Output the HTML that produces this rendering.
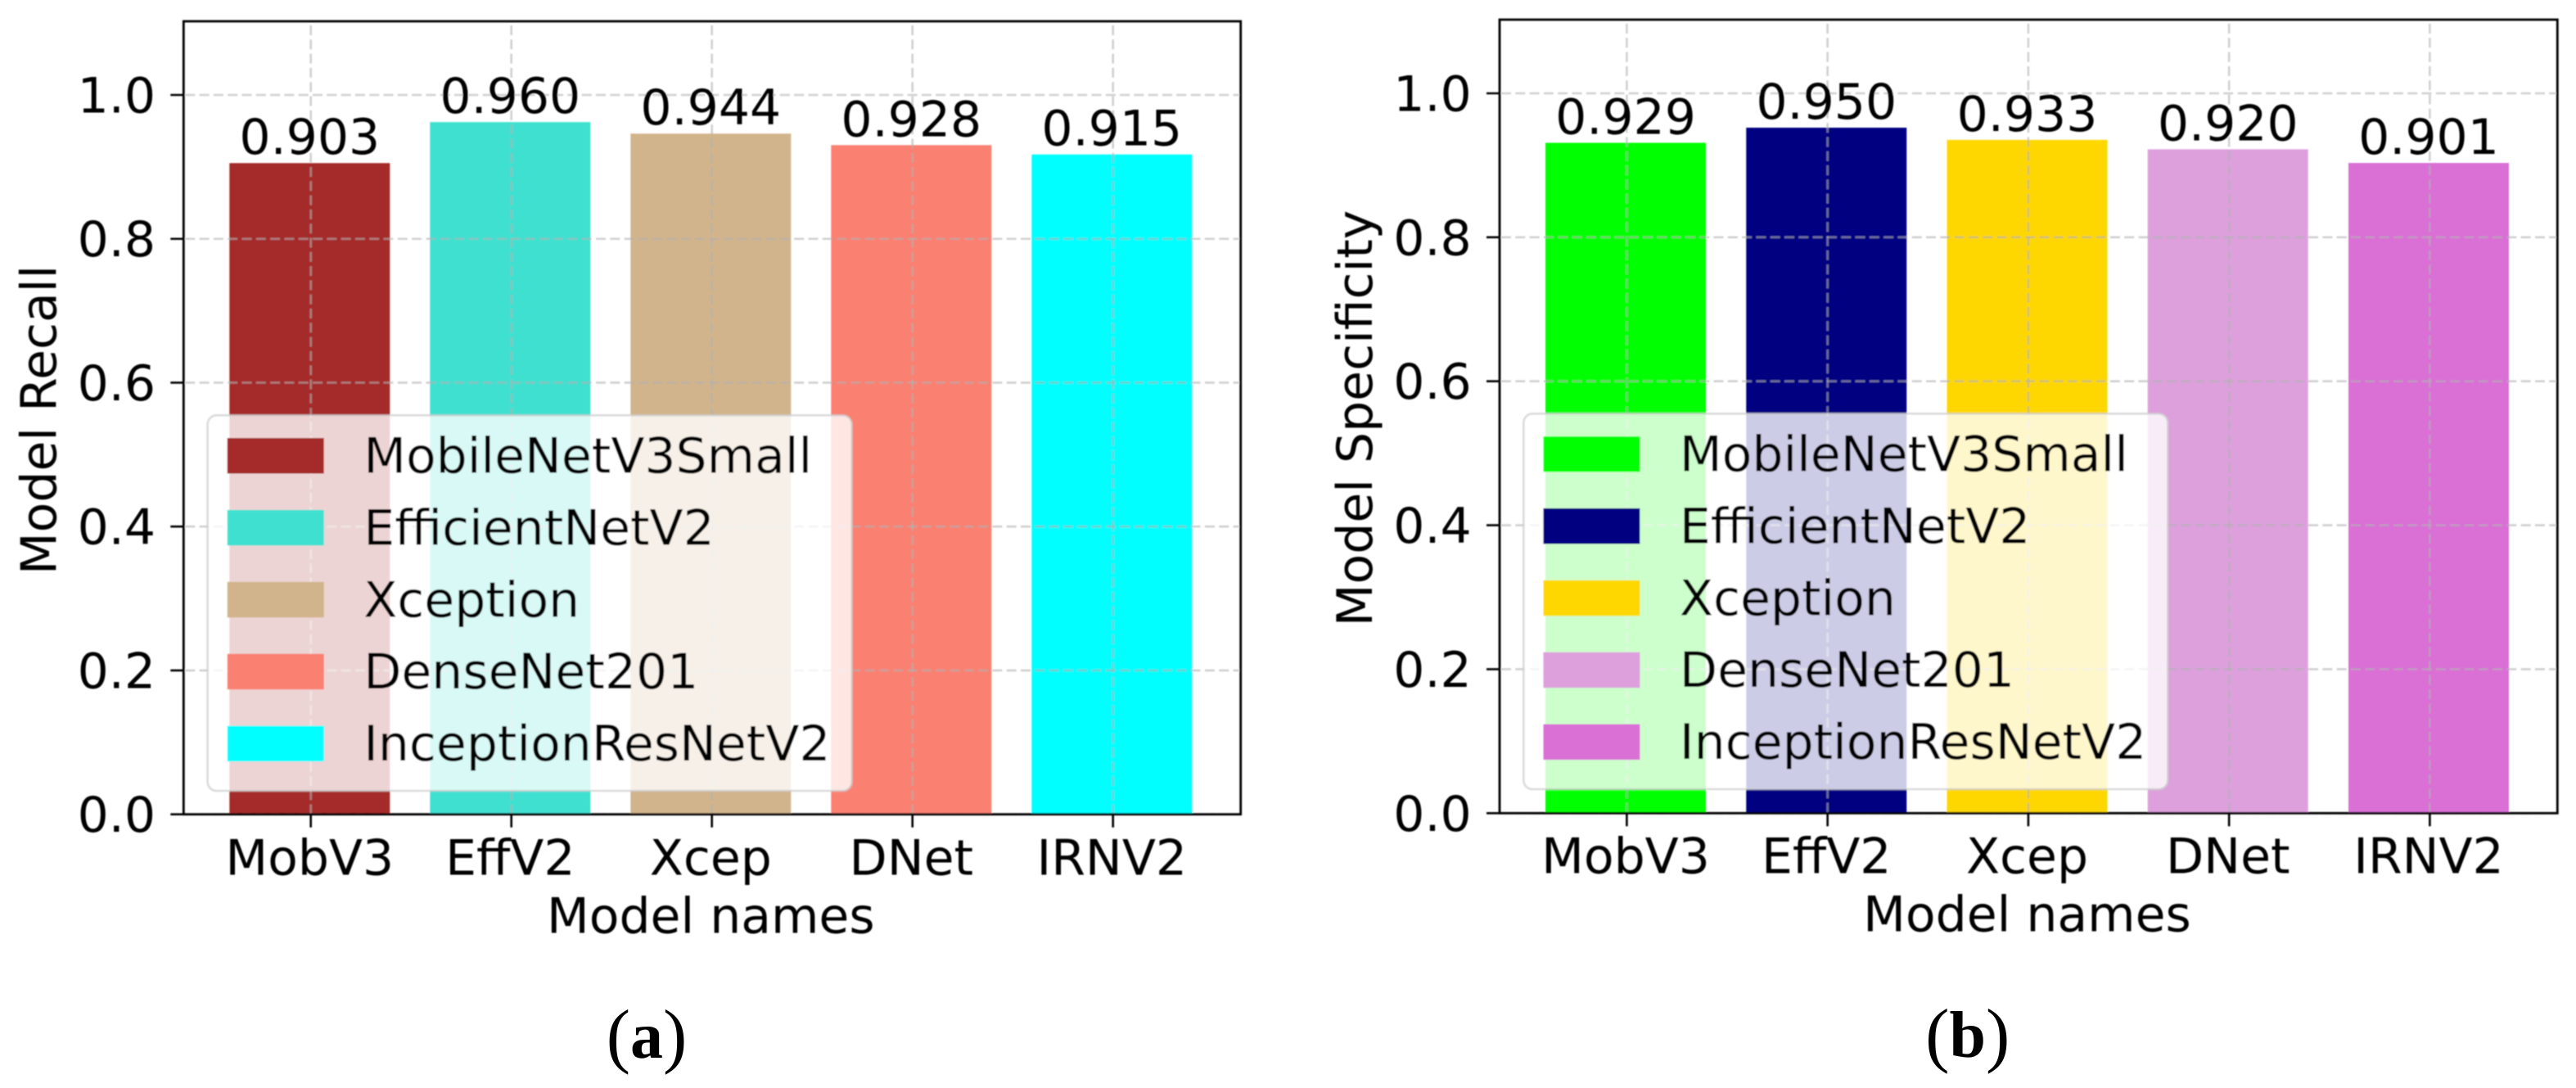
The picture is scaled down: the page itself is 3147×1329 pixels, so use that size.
<!DOCTYPE html>
<html lang="en">
<head>
<meta charset="utf-8">
<title>Model Recall and Specificity</title>
<style>
html,body{margin:0;padding:0;background:#fff;width:3147px;height:1329px;overflow:hidden}
svg{display:block}
text{font-family:"DejaVu Sans","Liberation Sans",sans-serif;fill:#000}
text.cap{font-family:"Liberation Serif",serif}
</style>
</head>
<body>
<svg id="figure" xmlns="http://www.w3.org/2000/svg" width="3147" height="1329" viewBox="0 0 3147 1329">
<defs><filter id="soft" filterUnits="userSpaceOnUse" x="0" y="-10" width="1600" height="1350"><feGaussianBlur stdDeviation="0.7"/></filter></defs>
<text class="cap" x="790" y="1294" font-size="88" text-anchor="middle">(<tspan font-weight="bold" font-size="80" dy="-2">a</tspan><tspan dy="2">)</tspan></text>
<text class="cap" x="2403.7" y="1293" font-size="88" text-anchor="middle">(<tspan font-weight="bold" font-size="80" dy="-2">b</tspan><tspan dy="2">)</tspan></text>
</svg>
<script>
const categories = ["MobV3", "EffV2", "Xcep", "DNet", "IRNV2"];
const modelNames = ["MobileNetV3Small", "EfficientNetV2", "Xception", "DenseNet201", "InceptionResNetV2"];
const recallValues = [0.903, 0.960, 0.944, 0.928, 0.915];
const specificityValues = [0.929, 0.950, 0.933, 0.920, 0.901];
const yTickValues = [0.0, 0.2, 0.4, 0.6, 0.8, 1.0];
const recallColors = ["#a52a2a", "#40e0d0", "#d2b48c", "#fa8072", "#00ffff"];
const specificityColors = ["#00ff00", "#000080", "#ffd700", "#dda0dd", "#da70d6"];

const svgNS = "http://www.w3.org/2000/svg";
const fig = document.getElementById("figure");
const FS = 60;

function mk(parent, tag, attrs, txt) {
  const el = document.createElementNS(svgNS, tag);
  for (const k in attrs) el.setAttribute(k, attrs[k]);
  if (txt !== undefined) el.textContent = txt;
  parent.appendChild(el);
  return el;
}

function panel(opts) {
  const g = mk(fig, "g", {transform: "translate(" + opts.dx + "," + opts.dy + ")", filter: "url(#soft)"});
  
  

  const left = 224.3, right = opts.right, bottom = opts.bottom, top = 26;
  const yScale = v => bottom - (bottom - 116) * v;
  const barCenter = i => 378.3 + opts.step * i;
  const tickX = i => barCenter(i) + 1.4;
  const barWidth = 196;
  const barLift = 2;

  // bars
  opts.values.forEach((v, i) => {
    const t = yScale(v) - barLift;
    const r = mk(g, "rect", {x: barCenter(i) - barWidth / 2, y: t, width: barWidth, height: bottom - t, fill: opts.colors[i]});
    
    
  });

  // grid
  yTickValues.forEach(v => {
    const l = mk(g, "line", {x1: left + 2, x2: right - 2, y1: yScale(v), y2: yScale(v), stroke: "#b0b0b0", "stroke-opacity": 0.6, "stroke-width": 2.6, "stroke-dasharray": "12 5.3"});
    
    
  });
  categories.forEach((c, i) => {
    const l = mk(g, "line", {x1: tickX(i), x2: tickX(i), y1: top + 5, y2: bottom, stroke: "#b0b0b0", "stroke-opacity": 0.6, "stroke-width": 2.6, "stroke-dasharray": "12 5.3"});
    
    
  });

  // value labels
  opts.values.forEach((v, i) => {
    const t = mk(g, "text", {x: barCenter(i), y: yScale(v) - barLift - 11, "font-size": FS, "text-anchor": "middle"}, v.toFixed(3));
    
    
  });

  // legend
  const lg = mk(g, "g", {});
  
  
  const frame = mk(lg, "rect", {x: 253.6, y: 507.3, width: 787, height: 458.7, rx: 11, ry: 11, fill: "#fff", "fill-opacity": 0.8, stroke: "#cccccc", "stroke-opacity": 0.7, "stroke-width": 2.6});
  
  
  modelNames.forEach((n, i) => {
    const py = 535 + 87.9 * i;
    const sw = mk(lg, "rect", {x: 277.7, y: py, width: 118, height: 43.5, fill: opts.colors[i]});
    
    
    const tx = mk(lg, "text", {x: 444.2, y: py + 42.5, "font-size": FS}, n);
    
    
  });

  // ticks and tick labels
  yTickValues.forEach(v => {
    const l = mk(g, "line", {x1: left - 16, x2: left, y1: yScale(v), y2: yScale(v), stroke: "#000", "stroke-width": 2.6});
    
    
    const t = mk(g, "text", {x: 190, y: yScale(v) + 21.5, "font-size": FS, "text-anchor": "end"}, v.toFixed(1));
    
    
  });
  categories.forEach((c, i) => {
    const l = mk(g, "line", {x1: tickX(i), x2: tickX(i), y1: bottom, y2: bottom + 16, stroke: "#000", "stroke-width": 2.6});
    
    
    const t = mk(g, "text", {x: barCenter(i), y: 1068.3, "font-size": FS, "text-anchor": "middle"}, c);
    
    
  });

  // spines
  const sp = mk(g, "rect", {x: left, y: top, width: right - left, height: bottom - top, fill: "none", stroke: "#000", "stroke-width": 2.8});
  
  

  // axis titles
  const xt = mk(g, "text", {x: barCenter(2), y: 1139.3, "font-size": FS, "text-anchor": "middle"}, "Model names");
  
  
  const yt = mk(g, "text", {"font-size": FS, "text-anchor": "middle", transform: "translate(68.3,513) rotate(-90)"}, opts.yTitle);
  
  
}

panel({name: "recall-chart", dx: 0, dy: 0, right: 1515.7, bottom: 994.7, step: 245, values: recallValues, colors: recallColors, yTitle: "Model Recall"});
panel({name: "specificity-chart", dx: 1607.7, dy: -2, right: 1516.6, bottom: 995.3, step: 245.25, values: specificityValues, colors: specificityColors, yTitle: "Model Specificity"});
</script>
</body>
</html>
